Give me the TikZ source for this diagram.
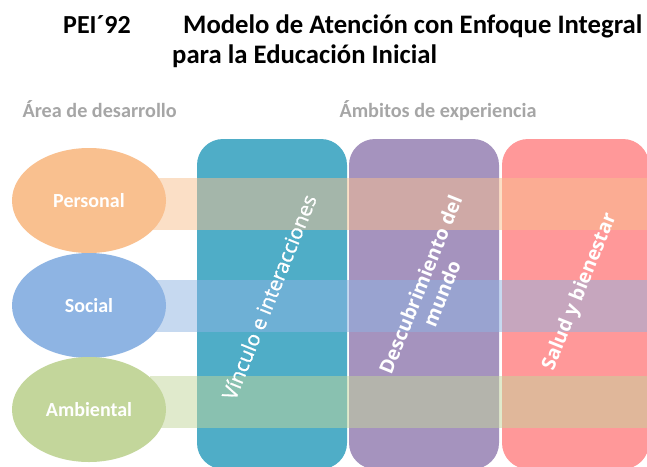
\documentclass[tikz,border=0pt]{standalone}
\usepackage{fontspec}
\setmainfont{Carlito}
\newfontfamily\osans{Open Sans}
\newfontfamily\osanssemi[FakeBold=0.9]{Open Sans}
\usetikzlibrary{shapes.geometric}
\definecolor{cteal}{HTML}{4FADC7}
\definecolor{cpurple}{HTML}{A593BE}
\definecolor{cpink}{HTML}{FF9899}
\definecolor{corange}{HTML}{F9C08F}
\definecolor{cblue}{HTML}{8EB4E3}
\definecolor{cgreen}{HTML}{C3D69B}
\definecolor{cgraytxt}{HTML}{A6A6A6}
\tikzset{
  column/.style={rounded corners=26pt},
  band/.style={fill opacity=0.5},
  area/.style={ellipse, minimum width=154pt, minimum height=105pt, inner sep=0pt,
    text=white, font=\fontsize{20}{24}\selectfont\bfseries},
  coltext/.style={text=white, rotate=68, align=center, inner sep=0pt, font=\osanssemi\fontsize{20.5}{24}\selectfont},
  coltextb/.style={coltext, font=\osans\bfseries\fontsize{19.5}{23}\selectfont},
  head/.style={text=cgraytxt, font=\fontsize{20.2}{24}\selectfont\bfseries, anchor=base west},
  title/.style={text=black, font=\fontsize{26.7}{30}\selectfont\bfseries, anchor=base west, inner sep=0pt}
}
\begin{document}
\begin{tikzpicture}[x=1pt,y=-1pt]
\useasboundingbox (0,0) rectangle (647,466);
\fill[white] (0,0) rectangle (647,466);
% titles
\node[title, font=\fontsize{26}{30}\selectfont\bfseries] (t1) at (63,33) {PEI´92};
\node[title] (t2) at (183,33) {Modelo de Atención con Enfoque Integral};
\node[title] (t3) at (172,63) {para la Educación Inicial};
\node[head] (h1) at (19,117) {Área de desarrollo};
\node[head] (h2) at (336,117) {Ámbitos de experiencia};
% columns
\fill[cteal, column] (197,139) rectangle (347,469);
\fill[cpurple, column] (349,139) rectangle (499,469);
\fill[cpink, column] (502,139) rectangle (649,469);
% bands
\fill[corange, band] (150,178) rectangle (647,230);
\fill[cblue, band] (150,280) rectangle (647,332);
\fill[cgreen, band] (150,376) rectangle (647,428);
% areas
\node[area, fill=corange] (per) at (89,200.5) {Personal};
\node[area, fill=cblue] (soc) at (89,305.5) {Social};
\node[area, fill=cgreen] (amb) at (89,409.5) {Ambiental};
% column texts
\node[coltext] (c1) at (269,297) {Vínculo e interacciones};
\node[coltextb] (c2) at (431,289) {Descubrimiento del\\mundo};
\node[coltextb] (c3) at (580,292) {Salud y bienestar};
\end{tikzpicture}
\end{document}
